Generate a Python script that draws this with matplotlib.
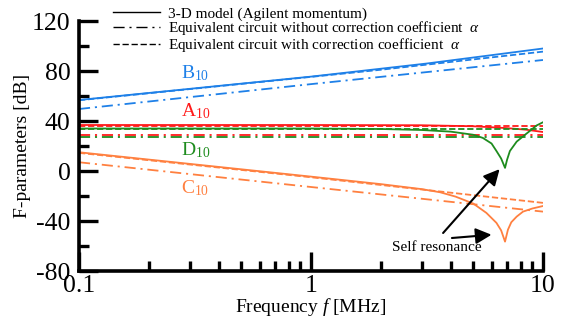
import matplotlib
matplotlib.use("Agg")
import matplotlib.pyplot as plt
from matplotlib.lines import Line2D
from matplotlib.ticker import LogLocator, MultipleLocator, NullFormatter

plt.rcParams['font.family'] = ['Liberation Serif', 'DejaVu Serif']
plt.rcParams['mathtext.fontset'] = 'custom'
plt.rcParams['mathtext.rm'] = 'Liberation Serif'
plt.rcParams['mathtext.it'] = 'Liberation Serif:italic'
plt.rcParams['axes.unicode_minus'] = False
plt.rcParams['lines.scale_dashes'] = False

# ---------------- data ----------------
# B10
fB_solid = [0.1, 1, 3.16, 10]
B_solid = [56.8, 75.5, 86.0, 98.0]
fB_dash = [0.1, 1, 2, 10]
B_dash = [56.6, 75.3, 81.0, 95.5]
fB_dd = [0.1, 1, 10]
B_dd = [49.6, 69.5, 88.8]

# A10
fA_solid = [0.1, 1, 3, 5, 7, 8.5, 10]
A_solid = [36.8, 36.8, 36.6, 35.8, 34.3, 33.0, 31.2]
fA_dash = [0.1, 10]
A_dash = [36.0, 36.0]
fA_dd = [0.1, 10]
A_dd = [29.2, 29.2]

# D10
fD_solid = [0.1, 1, 2, 3, 4, 5, 5.5, 6.0, 6.3, 6.6, 6.86, 7.0, 7.2, 7.7, 8.5, 9.4, 10]
D_solid = [34.0, 34.0, 33.6, 32.8, 31.5, 29.0, 26.5, 22.0, 16.0, 10.0, 2.5, 9.0, 16.0, 23.5, 30.0, 36.5, 39.0]
fD_dash = [0.1, 10]
D_dash = [33.3, 33.3]
fD_dd = [0.1, 10]
D_dd = [27.4, 27.4]

# C10
fC_solid = [0.1, 1, 2, 3, 3.6, 4.2, 5.0, 5.7, 6.3, 6.6, 6.86, 7.06, 7.3, 7.7, 8.2, 9, 10]
C_solid = [15.0, -4.5, -10.5, -14.5, -17.0, -20.5, -26.0, -33.5, -41.5, -47.5, -56.5, -47.0, -41.0, -36.5, -32.5, -30.0, -28.0]
fC_dash = [0.1, 1, 10]
C_dash = [14.5, -5.0, -25.5]
fC_dd = [0.1, 1, 10]
C_dd = [7.0, -12.8, -32.5]

xticks = [0.1, 1, 10]
xticklabels = ['0.1', '1', '10']
yticks = [-80, -40, 0, 40, 80, 120]
yticklabels = ['-80', '-40', '0', '40', '80', '120']

legend_labels = ['3-D model (Agilent momentum)',
                 r'Equivalent circuit without correction coefficient  $\alpha$',
                 r'Equivalent circuit with correction coefficient  $\alpha$']
curve_names = [r'B$_{\mathrm{10}}$', r'A$_{\mathrm{10}}$', r'D$_{\mathrm{10}}$', r'C$_{\mathrm{10}}$']

# ---------------- styles ----------------
c_blue = '#1E80E8'
c_red = '#FF1A1A'
c_green = '#1E8C1E'
c_orange = '#FF8040'
ls_solid = '-'
ls_dd = (0, (8, 3.5, 1.5, 3.5))
ls_dash = (0, (4.5, 2))
lw = 1.3

fig = plt.figure(figsize=(5.7, 3.22), dpi=100)
ax = fig.add_axes([79/570, 1 - 271/322, (543-79)/570, (271-21)/322])

series = [
    (c_blue, fB_solid, B_solid, fB_dd, B_dd, fB_dash, B_dash),
    (c_red, fA_solid, A_solid, fA_dd, A_dd, fA_dash, A_dash),
    (c_green, fD_solid, D_solid, fD_dd, D_dd, fD_dash, D_dash),
    (c_orange, fC_solid, C_solid, fC_dd, C_dd, fC_dash, C_dash),
]
for col, fs, vs, fdd, vdd, fda, vda in series:
    ax.plot(fdd, vdd, color=col, lw=lw, ls=ls_dd)
    ax.plot(fda, vda, color=col, lw=lw, ls=ls_dash)
    ax.plot(fs, vs, color=col, lw=lw, ls=ls_solid)

ax.set_xscale('log')
ax.set_xlim(0.1, 10)
ax.set_ylim(-80, 120)
ax.set_xticks(xticks)
ax.set_xticklabels(xticklabels)
ax.xaxis.set_minor_locator(LogLocator(base=10, subs=range(2, 10)))
ax.xaxis.set_minor_formatter(NullFormatter())
ax.set_yticks(yticks)
ax.set_yticklabels(yticklabels)
ax.yaxis.set_minor_locator(MultipleLocator(20))

for s in ['top', 'right']:
    ax.spines[s].set_visible(False)
for s in ['left', 'bottom']:
    ax.spines[s].set_linewidth(2.6)
ax.tick_params(which='major', direction='in', length=14, width=2.4, labelsize=18.5, pad=5)
ax.tick_params(which='minor', direction='in', length=7, width=2.4)
ax.tick_params(axis='y', which='major', pad=6)
ax.tick_params(axis='x', which='major', pad=3)

ax.set_xlabel(r'Frequency $f$ [MHz]', fontsize=14, labelpad=-1)
ax.set_ylabel('F-parameters [dB]', fontsize=14, labelpad=0.5)

# curve names
name_pos = [(0.275, 74.2, c_blue), (0.275, 43.5, c_red), (0.275, 12.8, c_green), (0.275, -17.8, c_orange)]
for name, (fx, fy, col) in zip(curve_names, name_pos):
    ax.text(fx, fy, name, color=col, fontsize=14, ha='left', va='baseline')

# self resonance annotation
ax.annotate('', xy=(6.5, 1.5), xytext=(3.71, -49.6),
            arrowprops=dict(arrowstyle='-|>', color='black', lw=1.5, mutation_scale=24,
                            shrinkA=0, shrinkB=0))
ax.annotate('', xy=(6.0, -51.0), xytext=(4.05, -53.6),
            arrowprops=dict(arrowstyle='-|>', color='black', lw=1.5, mutation_scale=24,
                            shrinkA=0, shrinkB=0))
ax.text(3.49, -61.5, 'Self resonance', fontsize=11, ha='center', va='center')

handles = [Line2D([], [], color='black', lw=1.0, ls=ls_solid),
           Line2D([], [], color='black', lw=1.0, ls=ls_dd),
           Line2D([], [], color='black', lw=1.0, ls=ls_dash)]
fig.legend(handles, legend_labels, loc='upper left', bbox_to_anchor=(0.198, 0.979),
           frameon=False, fontsize=11, handlelength=3.1, handletextpad=0.5,
           labelspacing=-0.08, borderpad=0, borderaxespad=0)

fig.savefig('out.png', dpi=100)
